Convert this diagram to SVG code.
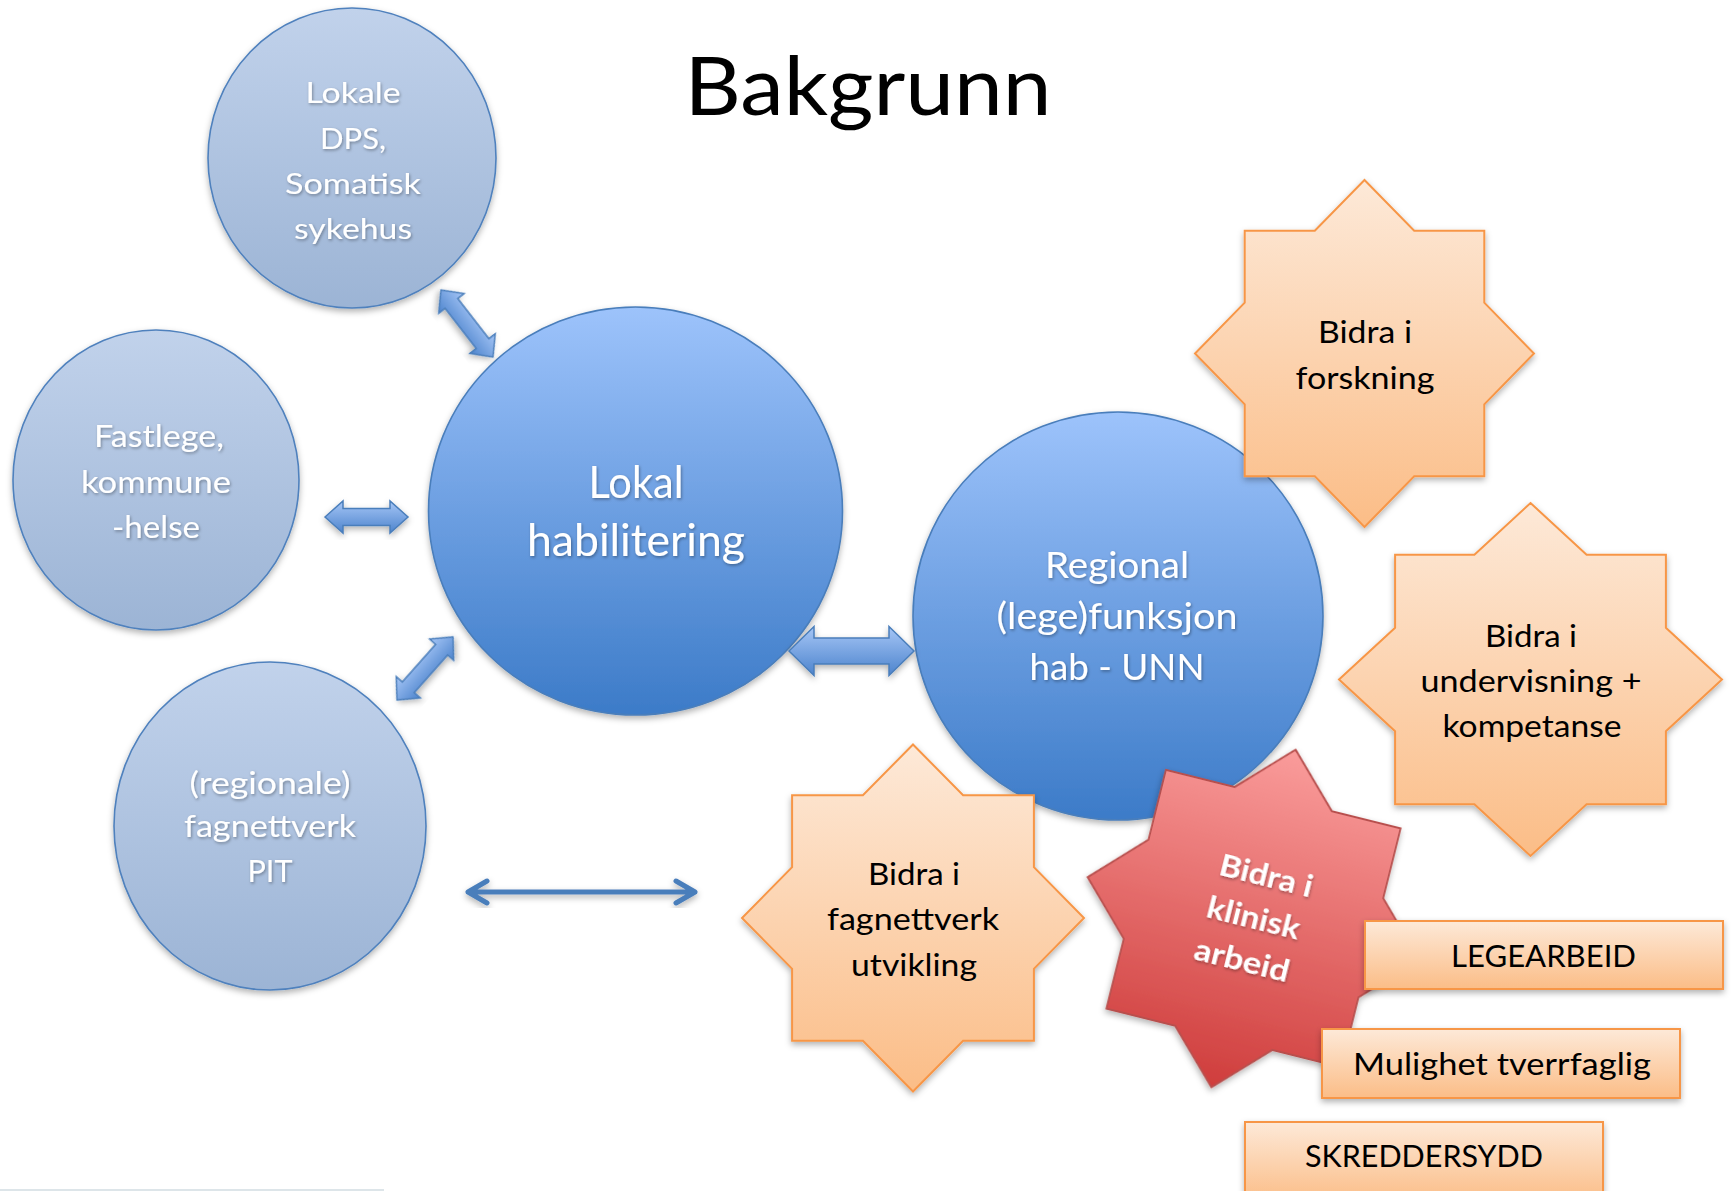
<svg xmlns="http://www.w3.org/2000/svg" width="1733" height="1191" viewBox="0 0 1733 1191">
  <defs>
    <linearGradient id="gLight" x1="0" y1="0" x2="0" y2="1">
      <stop offset="0" stop-color="#c1d2eb"/>
      <stop offset="1" stop-color="#9cb4d5"/>
    </linearGradient>
    <linearGradient id="gDark" x1="0" y1="0" x2="0" y2="1">
      <stop offset="0" stop-color="#9dc3fb"/>
      <stop offset="1" stop-color="#3c7bc8"/>
    </linearGradient>
    <linearGradient id="gOrange" x1="0" y1="0" x2="0" y2="1">
      <stop offset="0" stop-color="#fde9d8"/>
      <stop offset="1" stop-color="#fbbd87"/>
    </linearGradient>
    <linearGradient id="gRed" x1="0" y1="0" x2="0" y2="1">
      <stop offset="0" stop-color="#fa9c9b"/>
      <stop offset="1" stop-color="#cf3d3c"/>
    </linearGradient>
    <linearGradient id="gArrow" x1="0" y1="0" x2="0" y2="1">
      <stop offset="0" stop-color="#a6c6f6"/>
      <stop offset="1" stop-color="#4d84cd"/>
    </linearGradient>
    <filter id="shadow" x="-20%" y="-20%" width="140%" height="140%">
      <feDropShadow dx="0" dy="3" stdDeviation="3" flood-color="#000" flood-opacity="0.3"/>
    </filter>
    <filter id="tshadow" x="-20%" y="-30%" width="140%" height="160%">
      <feDropShadow dx="1" dy="1.5" stdDeviation="1.5" flood-color="#000" flood-opacity="0.35"/>
    </filter>
  </defs>
  <style>
    text { font-family: Lato, "Liberation Sans", "Noto Sans", sans-serif; text-anchor: middle; }
    .light { fill: url(#gLight); stroke: #4f81bd; stroke-width: 1.6; filter: url(#shadow); }
    .dark { fill: url(#gDark); stroke: #4a7ebb; stroke-width: 1.6; filter: url(#shadow); }
    .star { fill: url(#gOrange); stroke: #f79646; stroke-width: 2; stroke-linejoin: miter; filter: url(#shadow); }
    .redstar { fill: url(#gRed); stroke: #b8504e; stroke-width: 1.8; filter: url(#shadow); }
    .box { fill: url(#gOrange); stroke: #f79646; stroke-width: 2; filter: url(#shadow); }
    .arrow { fill: url(#gArrow); stroke: #4a7ebb; stroke-width: 1.5; stroke-linejoin: miter; filter: url(#shadow); }
    .thin { fill: none; stroke: #4a7ebb; stroke-width: 5; stroke-linecap: round; stroke-linejoin: round; filter: url(#shadow); }
    .wt { fill: #ffffff; filter: url(#tshadow); }
    .bt { fill: #000000; }
    .rt { fill: #ffffff; font-weight: bold; filter: url(#tshadow); }
  </style>
  <rect x="0" y="0" width="1733" height="1191" fill="#ffffff"/>

  <g id="title">
    <text x="868" y="115" font-size="82" class="bt" textLength="367" lengthAdjust="spacingAndGlyphs">Bakgrunn</text>
  </g>

  <g id="node-lokale-dps">
    <ellipse cx="352" cy="158" rx="144" ry="150" class="light"/>
    <text class="wt" font-size="28" x="353" y="103" textLength="95" lengthAdjust="spacingAndGlyphs">Lokale</text>
    <text class="wt" font-size="28" x="353" y="149" textLength="66" lengthAdjust="spacingAndGlyphs">DPS,</text>
    <text class="wt" font-size="28" x="353" y="194" textLength="136" lengthAdjust="spacingAndGlyphs">Somatisk</text>
    <text class="wt" font-size="28" x="353" y="239" textLength="118" lengthAdjust="spacingAndGlyphs">sykehus</text>
  </g>

  <g id="node-fastlege">
    <ellipse cx="156" cy="480" rx="143" ry="150" class="light"/>
    <text class="wt" font-size="31" x="159" y="447" textLength="130" lengthAdjust="spacingAndGlyphs">Fastlege,</text>
    <text class="wt" font-size="31" x="156" y="493" textLength="150" lengthAdjust="spacingAndGlyphs">kommune</text>
    <text class="wt" font-size="31" x="156" y="538" textLength="88" lengthAdjust="spacingAndGlyphs">-helse</text>
  </g>

  <g id="node-regionale-fagnettverk">
    <ellipse cx="270" cy="826" rx="156" ry="164" class="light"/>
    <text class="wt" font-size="31" x="270" y="794" textLength="161" lengthAdjust="spacingAndGlyphs">(regionale)</text>
    <text class="wt" font-size="31" x="270" y="837" textLength="172" lengthAdjust="spacingAndGlyphs">fagnettverk</text>
    <text class="wt" font-size="31" x="270" y="882" textLength="45" lengthAdjust="spacingAndGlyphs">PIT</text>
  </g>

  <g id="node-lokal-habilitering">
    <ellipse cx="635.5" cy="511" rx="207" ry="204" class="dark"/>
    <text class="wt" font-size="44" x="636" y="498" textLength="95" lengthAdjust="spacingAndGlyphs">Lokal</text>
    <text class="wt" font-size="44" x="636" y="556" textLength="218" lengthAdjust="spacingAndGlyphs">habilitering</text>
  </g>

  <g id="node-regional">
    <ellipse cx="1118" cy="616" rx="205" ry="204" class="dark"/>
    <text class="wt" font-size="36" x="1117" y="578" textLength="144" lengthAdjust="spacingAndGlyphs">Regional</text>
    <text class="wt" font-size="36" x="1117" y="629" textLength="241" lengthAdjust="spacingAndGlyphs">(lege)funksjon</text>
    <text class="wt" font-size="36" x="1117" y="680" textLength="175" lengthAdjust="spacingAndGlyphs">hab - UNN</text>
  </g>

  <g id="connectors">
    <polygon class="arrow" transform="translate(441,290) rotate(52.2)" points="0,0 17,-16 17,-8 67.8,-8 67.8,-16 84.8,0 67.8,16 67.8,8 17,8 17,16"/>
    <polygon class="arrow" transform="translate(325,517)" points="0,0 18,-16 18,-8.5 65,-8.5 65,-16 83,0 65,16 65,8.5 18,8.5 18,16"/>
    <polygon class="arrow" transform="translate(397,700) rotate(-48.4)" points="0,0 17,-16 17,-8 67.3,-8 67.3,-16 84.3,0 67.3,16 67.3,8 17,8 17,16"/>
    <polygon class="arrow" transform="translate(789,651)" points="0,0 25,-24.5 25,-13 100,-13 100,-24.5 125,0 100,24.5 100,13 25,13 25,24.5"/>
    <path class="thin" d="M468,892 L695,892 M487,881 L468,892 L487,903 M676,881 L695,892 L676,903"/>
  </g>

  <g id="node-forskning">
    <polygon class="star" points="1364.5,180 1414.2,230.8 1484.3,230.8 1484.3,302.7 1534,353.5 1484.3,404.3 1484.3,476.2 1414.2,476.2 1364.5,527 1314.8,476.2 1244.7,476.2 1244.7,404.3 1195,353.5 1244.7,302.7 1244.7,230.8 1314.8,230.8"/>
    <text class="bt" font-size="30" x="1365" y="343" textLength="94" lengthAdjust="spacingAndGlyphs">Bidra i</text>
    <text class="bt" font-size="30" x="1365" y="389" textLength="139" lengthAdjust="spacingAndGlyphs">forskning</text>
  </g>

  <g id="node-undervisning">
    <polygon class="star" points="1530.5,503 1586.6,554.7 1665.9,554.7 1665.9,627.8 1722,679.5 1665.9,731.2 1665.9,804.3 1586.6,804.3 1530.5,856 1474.4,804.3 1395.1,804.3 1395.1,731.2 1339,679.5 1395.1,627.8 1395.1,554.7 1474.4,554.7"/>
    <text class="bt" font-size="30" x="1531" y="647" textLength="92" lengthAdjust="spacingAndGlyphs">Bidra i</text>
    <text class="bt" font-size="30" x="1531" y="692" textLength="221" lengthAdjust="spacingAndGlyphs">undervisning +</text>
    <text class="bt" font-size="30" x="1532" y="737" textLength="179" lengthAdjust="spacingAndGlyphs">kompetanse</text>
  </g>

  <g id="node-fagnettverk-utvikling">
    <polygon class="star" points="913,744.5 963.1,795.3 1033.9,795.3 1033.9,867.2 1084,918 1033.9,968.8 1033.9,1040.7 963.1,1040.7 913,1091.5 862.9,1040.7 792.1,1040.7 792.1,968.8 742,918 792.1,867.2 792.1,795.3 862.9,795.3"/>
    <text class="bt" font-size="31" x="914" y="885" textLength="92" lengthAdjust="spacingAndGlyphs">Bidra i</text>
    <text class="bt" font-size="31" x="913" y="930" textLength="172" lengthAdjust="spacingAndGlyphs">fagnettverk</text>
    <text class="bt" font-size="31" x="914" y="976" textLength="126" lengthAdjust="spacingAndGlyphs">utvikling</text>
  </g>

  <g id="node-klinisk-arbeid" transform="translate(1253.5,918.5) rotate(14)">
    <polygon class="redstar" points="0,-174 50.1,-123 120.9,-123 120.9,-51 171,0 120.9,51 120.9,123 50.1,123 0,174 -50.1,123 -120.9,123 -120.9,51 -171,0 -120.9,-51 -120.9,-123 -50.1,-123"/>
    <text class="rt" font-size="31" x="2" y="-34" textLength="95" lengthAdjust="spacingAndGlyphs">Bidra i</text>
    <text class="rt" font-size="31" x="0" y="10" textLength="95" lengthAdjust="spacingAndGlyphs">klinisk</text>
    <text class="rt" font-size="31" x="-1" y="54" textLength="97" lengthAdjust="spacingAndGlyphs">arbeid</text>
  </g>

  <g id="node-legearbeid">
    <rect class="box" x="1365" y="921" width="358" height="68"/>
    <text class="bt" font-size="31" x="1543.5" y="967" textLength="185" lengthAdjust="spacingAndGlyphs">LEGEARBEID</text>
  </g>

  <g id="node-mulighet-tverrfaglig">
    <rect class="box" x="1322" y="1029" width="358" height="69"/>
    <text class="bt" font-size="31" x="1502" y="1075" textLength="298" lengthAdjust="spacingAndGlyphs">Mulighet tverrfaglig</text>
  </g>

  <g id="node-skreddersydd">
    <rect class="box" x="1245" y="1122" width="358" height="80"/>
    <text class="bt" font-size="31" x="1424" y="1167" textLength="238" lengthAdjust="spacingAndGlyphs">SKREDDERSYDD</text>
  </g>

  <line x1="0" y1="1190" x2="384" y2="1190" stroke="#d2dde2" stroke-width="1.5"/>
</svg>
